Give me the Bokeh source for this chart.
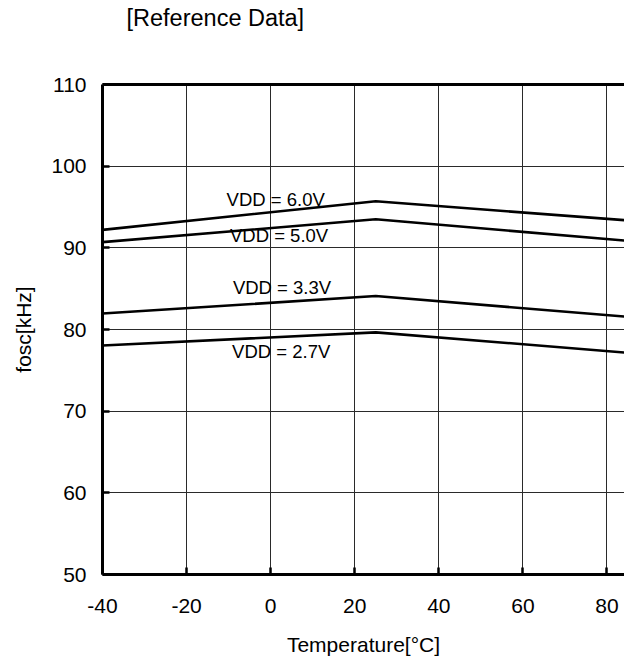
from bokeh.plotting import figure
from bokeh.models import LinearAxis, FixedTicker, Range1d, ColumnDataSource, Title
from bokeh.embed import file_html
from bokeh.resources import INLINE
from bokeh.core.properties import value

# ---- data ----
temps = [-40, 25, 85]
f_vdd60 = [92.2, 95.7, 93.35]
f_vdd50 = [90.7, 93.5, 90.85]
f_vdd33 = [81.95, 84.1, 81.55]
f_vdd27 = [78.05, 79.65, 77.15]

series_labels = ["VDD = 6.0V", "VDD = 5.0V", "VDD = 3.3V", "VDD = 2.7V"]
label_x = [1.2, 2.0, 2.7, 2.5]
label_y = [95.95, 91.5, 85.2, 77.35]

x_ticks = [-40, -20, 0, 20, 40, 60, 80]
y_ticks = [50, 60, 70, 80, 90, 100, 110]

title_text = "[Reference Data]"
x_label = "Temperature[°C]"
y_label = "fosc[kHz]"

FONT = "Liberation Sans"

p = figure(width=624, height=662, x_range=Range1d(-40, 84.17), y_range=Range1d(50, 110),
           output_backend="svg", toolbar_location=None, title=None,
           min_border_left=102, min_border_right=0, min_border_top=84, min_border_bottom=88)
p.outline_line_color = None
p.background_fill_color = "white"
p.border_fill_color = "white"

# axes
for ax in (p.xaxis[0], p.yaxis[0]):
    ax.axis_line_width = 3
    ax.axis_line_color = "black"
    ax.major_tick_in = 7
    ax.major_tick_out = 0
    ax.major_tick_line_width = 2.5
    ax.major_tick_line_color = "black"
    ax.minor_tick_line_color = None
    ax.major_label_text_font = FONT
    ax.major_label_text_font_size = "21px"
    ax.major_label_text_color = "black"
    ax.axis_label_text_font = FONT
    ax.axis_label_text_font_size = "21px"
    ax.axis_label_text_font_style = "normal"
    ax.axis_label_text_color = "black"

p.xaxis[0].ticker = FixedTicker(ticks=x_ticks)
p.yaxis[0].ticker = FixedTicker(ticks=y_ticks)
p.xaxis[0].major_label_overrides = {t: str(t) for t in x_ticks}
p.yaxis[0].major_label_overrides = {t: str(t) for t in y_ticks}
p.xaxis[0].axis_label = x_label
p.yaxis[0].axis_label = y_label
p.xaxis[0].major_label_standoff = 24
p.xaxis[0].axis_label_standoff = 17
p.yaxis[0].major_label_standoff = 16
p.yaxis[0].axis_label_standoff = 13

# top border; one hidden tick gives the panel height that spaces the title upward
top_axis = LinearAxis(ticker=FixedTicker(ticks=[0]), axis_line_width=3, axis_line_color="black",
                      major_tick_line_color=None, minor_tick_line_color=None,
                      major_tick_in=0, major_tick_out=54,
                      major_label_overrides={0: ""},
                      major_label_text_font_size="0px", major_label_standoff=0)
p.add_layout(top_axis, "above")

# title, stacked outside the top axis
p.add_layout(Title(text=title_text, align="left", offset=24, text_font=FONT,
                   text_font_size="23.5px", text_font_style="normal", text_color="black",
                   standoff=0), "above")

# grid
p.xgrid.ticker = FixedTicker(ticks=x_ticks)
p.ygrid.ticker = FixedTicker(ticks=y_ticks)
for g in (p.xgrid[0], p.ygrid[0]):
    g.grid_line_color = "#2a2a2a"
    g.grid_line_width = 1

# lines
for ys in (f_vdd60, f_vdd50, f_vdd33, f_vdd27):
    p.line(temps, ys, line_color="black", line_width=2.6)

src = ColumnDataSource(dict(x=label_x, y=label_y, t=series_labels))
p.text(x="x", y="y", text="t", source=src, text_align="center", text_baseline="middle",
       text_font=value(FONT), text_font_size="18.5px", text_color="black")

open("out.html", "w").write(file_html(p, INLINE))
